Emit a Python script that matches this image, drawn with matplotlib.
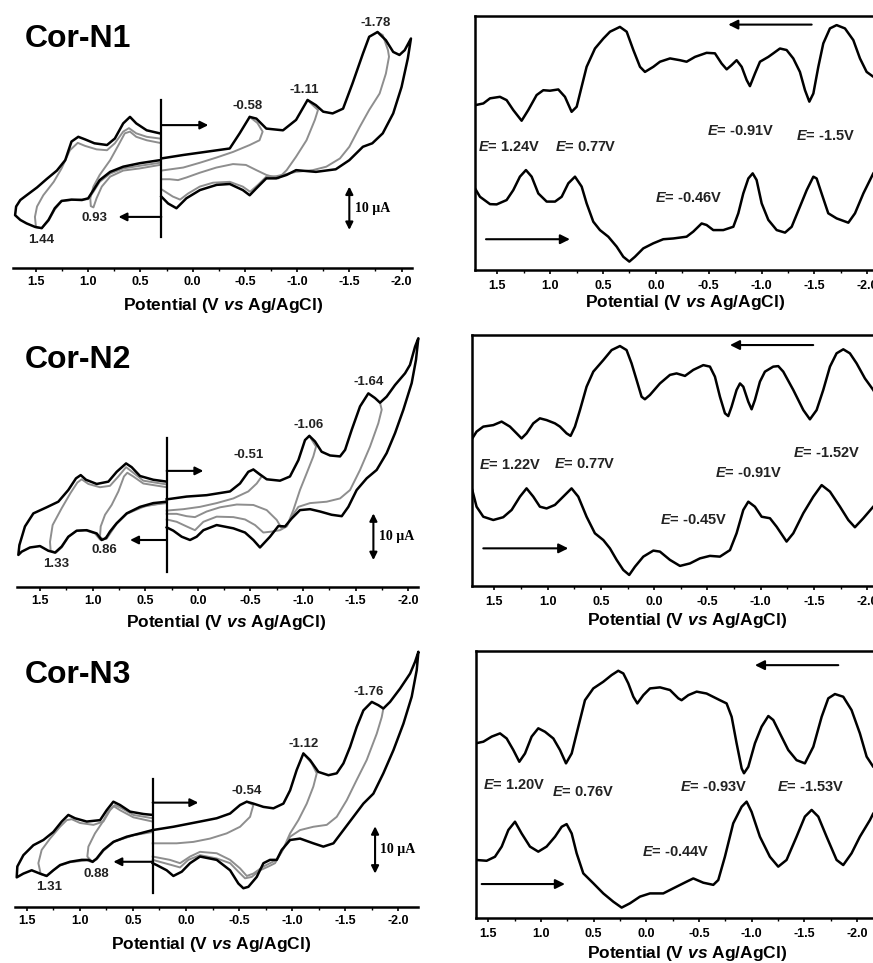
import numpy as np
import matplotlib
matplotlib.use('Agg')
import matplotlib.pyplot as plt
from matplotlib.ticker import MultipleLocator, FormatStrFormatter

# CV data: potential (V vs Ag/AgCl), current (uA)
# right half of each CV (0.3 V -> negative and back), black = full scan
n1_cv_black_neg = [(0.30, 25.3), (0.09, 26.1), (-0.355, 27.6), (-0.45, 31.1), (-0.546, 34.9), (-0.61, 34.5),
                   (-0.705, 32.2), (-0.865, 31.8), (-0.99, 34.2), (-1.10, 38.8), (-1.18, 37.6), (-1.25, 36.1),
                   (-1.34, 35.7), (-1.44, 36.8), (-1.53, 42.6), (-1.63, 49.5), (-1.69, 53.4), (-1.77, 54.5),
                   (-1.85, 52.6), (-1.92, 49.9), (-1.98, 49.2), (-2.03, 50.3), (-2.09, 53.0), (-2.06, 48.4),
                   (-2.0, 41.8), (-1.92, 35.7), (-1.82, 31.1), (-1.72, 28.8), (-1.63, 28.0), (-1.50, 24.9),
                   (-1.37, 22.8), (-1.18, 22.2), (-0.99, 22.6), (-0.90, 21.5), (-0.80, 20.7), (-0.705, 20.7),
                   (-0.61, 18.4), (-0.546, 16.8), (-0.48, 18.0), (-0.355, 19.4), (-0.23, 19.2), (-0.07, 18.0),
                   (0.06, 16.1), (0.155, 13.8), (0.235, 14.9), (0.30, 16.5)]
n1_cv_grey_a = [(-0.546, 34.9), (-0.62, 33.5), (-0.67, 31.5), (-0.64, 29.5), (-0.546, 28.4), (-0.386, 26.8),
                (-0.227, 25.5), (-0.068, 24.3), (0.09, 23.2), (0.30, 22.5)]
n1_cv_grey_b = [(-1.10, 38.8), (-1.15, 37.6), (-1.20, 36.5), (-1.17, 34.2), (-1.09, 29.5), (-0.99, 25.7),
                (-0.90, 22.6), (-0.82, 20.7), (-0.705, 21.5), (-0.61, 22.6), (-0.51, 23.8), (-0.386, 24.0),
                (-0.227, 23.2), (-0.068, 22.0), (0.06, 20.9), (0.14, 20.3), (0.22, 20.5), (0.30, 20.5)]
n1_cv_grey_c = [(-1.77, 54.5), (-1.82, 53.8), (-1.87, 50.3), (-1.88, 48.8), (-1.85, 44.9), (-1.79, 40.3),
                (-1.69, 36.5), (-1.60, 32.6), (-1.50, 28.0), (-1.41, 25.3), (-1.28, 23.4), (-1.15, 22.6),
                (-0.99, 22.2), (-0.80, 21.2), (-0.705, 21.1), (-0.625, 19.2), (-0.55, 17.6), (-0.48, 18.8),
                (-0.355, 19.9), (-0.195, 19.7), (-0.068, 18.8), (0.044, 17.2), (0.12, 15.8), (0.19, 16.5),
                (0.30, 18.2)]
# left half of each CV (0.3 V -> positive and back)
n1_cv_black_pos = [(0.315, 24.9), (0.506, 24.2), (0.665, 23.4), (0.79, 22.2), (0.89, 20.3), (0.95, 18.0),
                   (1.0, 16.1), (1.06, 15.7), (1.16, 15.8), (1.255, 15.5), (1.32, 13.8), (1.38, 11.1),
                   (1.445, 9.2), (1.51, 9.5), (1.59, 10.3), (1.65, 11.1), (1.70, 12.2), (1.69, 14.2),
                   (1.65, 15.7), (1.59, 16.8), (1.49, 18.6), (1.40, 20.5), (1.30, 22.5), (1.22, 24.9),
                   (1.16, 29.2), (1.095, 30.3), (1.03, 29.7), (0.94, 28.8), (0.82, 28.4), (0.745, 29.9),
                   (0.665, 33.4), (0.60, 34.9), (0.54, 33.4), (0.44, 31.8), (0.315, 31.1)]
n1_cv_grey_d = [(0.315, 23.8), (0.506, 23.0), (0.665, 22.5), (0.79, 21.1), (0.87, 18.8), (0.92, 16.1),
                (0.95, 14.0), (0.975, 14.3), (0.98, 16.1), (0.95, 18.8), (0.89, 21.5), (0.79, 24.9),
                (0.71, 28.4), (0.65, 31.1), (0.60, 31.5), (0.54, 30.3), (0.44, 29.5), (0.315, 28.9)]
n1_cv_grey_e = [(0.315, 24.3), (0.506, 23.6), (0.665, 23.0), (0.79, 21.8), (0.89, 19.9), (0.95, 17.6),
                (1.0, 15.9), (1.16, 15.7), (1.255, 15.4), (1.32, 13.5), (1.38, 10.9), (1.445, 9.2),
                (1.50, 9.4), (1.51, 11.8), (1.49, 14.2), (1.43, 16.8), (1.33, 19.9), (1.255, 23.0),
                (1.175, 27.2), (1.10, 28.9), (1.03, 28.2), (0.92, 27.4), (0.82, 27.2), (0.745, 28.8),
                (0.665, 31.5), (0.61, 32.3), (0.54, 31.1), (0.44, 30.3), (0.315, 29.9)]

n2_cv_black_neg = [(0.296, 18.7), (0.106, 19.3), (-0.084, 19.6), (-0.306, 20.4), (-0.401, 22.1), (-0.48, 24.6),
                   (-0.528, 25.1), (-0.575, 24.3), (-0.655, 23.0), (-0.781, 22.7), (-0.876, 23.6), (-0.956, 27.1),
                   (-1.019, 31.4), (-1.06, 32.3), (-1.114, 31.1), (-1.177, 28.9), (-1.257, 28.1), (-1.352, 27.9),
                   (-1.40, 29.3), (-1.463, 33.6), (-1.542, 38.6), (-1.621, 41.4), (-1.684, 40.4), (-1.732, 39.4),
                   (-1.795, 40.7), (-1.875, 43.2), (-1.97, 45.7), (-2.017, 47.5), (-2.065, 51.4), (-2.096, 53.2),
                   (-2.074, 48.6), (-2.033, 43.6), (-1.954, 37.9), (-1.875, 32.9), (-1.795, 28.6), (-1.70, 25.0),
                   (-1.605, 23.2), (-1.51, 20.7), (-1.431, 17.1), (-1.368, 15.1), (-1.272, 15.4), (-1.162, 16.1),
                   (-1.067, 16.6), (-0.971, 16.4), (-0.892, 14.6), (-0.829, 12.9), (-0.766, 13.0), (-0.686, 10.7),
                   (-0.591, 8.4), (-0.528, 10.0), (-0.449, 11.6), (-0.338, 12.5), (-0.179, 13.2), (-0.053, 12.1),
                   (0.011, 10.7), (0.074, 10.0), (0.153, 10.7), (0.233, 12.0), (0.296, 12.7)]
n2_cv_grey_a = [(-0.528, 25.1), (-0.607, 23.6), (-0.56, 22.1), (-0.48, 20.4), (-0.338, 18.9), (-0.179, 17.9),
                (-0.021, 17.1), (0.137, 16.6), (0.296, 16.3)]
n2_cv_grey_b = [(-1.06, 32.3), (-1.124, 30.0), (-1.098, 27.9), (-1.035, 24.3), (-0.971, 20.7), (-0.908, 16.4),
                (-0.851, 13.2), (-0.797, 12.5), (-0.75, 14.3), (-0.655, 16.4), (-0.528, 17.5), (-0.37, 17.6),
                (-0.211, 17.0), (-0.084, 16.1), (0.027, 14.9), (0.106, 15.1), (0.201, 15.6), (0.296, 15.6)]
n2_cv_grey_c = [(-1.732, 39.4), (-1.748, 37.9), (-1.716, 35.0), (-1.637, 30.0), (-1.542, 25.0), (-1.447, 20.7),
                (-1.352, 18.9), (-1.225, 18.2), (-1.067, 17.9), (-0.956, 17.1), (-0.892, 15.0), (-0.845, 12.9),
                (-0.781, 12.1), (-0.702, 11.8), (-0.623, 11.6), (-0.544, 13.2), (-0.449, 14.4), (-0.338, 14.9),
                (-0.179, 15.0), (-0.053, 13.9), (0.027, 12.1), (0.106, 12.9), (0.201, 13.9), (0.296, 14.4)]
n2_cv_black_pos = [(0.296, 18.2), (0.423, 17.9), (0.549, 17.1), (0.676, 15.7), (0.771, 13.6), (0.835, 11.8),
                   (0.873, 10.4), (0.914, 10.0), (0.961, 11.4), (1.056, 12.1), (1.151, 12.0), (1.231, 10.7),
                   (1.294, 8.6), (1.357, 7.3), (1.421, 7.7), (1.50, 8.7), (1.595, 8.4), (1.674, 7.5),
                   (1.706, 6.8), (1.696, 8.9), (1.643, 12.9), (1.563, 15.7), (1.437, 17.0), (1.326, 18.2),
                   (1.231, 20.7), (1.158, 23.2), (1.113, 23.9), (1.063, 22.9), (0.961, 22.0), (0.85, 22.5),
                   (0.771, 24.6), (0.682, 26.4), (0.629, 25.6), (0.549, 23.7), (0.423, 22.9), (0.296, 22.5)]
n2_cv_grey_d = [(0.296, 17.9), (0.486, 17.4), (0.676, 15.6), (0.787, 13.2), (0.85, 11.1), (0.898, 10.1),
                (0.93, 10.7), (0.923, 12.9), (0.882, 15.4), (0.819, 17.5), (0.755, 20.4), (0.702, 23.6),
                (0.67, 24.4), (0.613, 23.6), (0.518, 22.1), (0.296, 21.3)]
n2_cv_grey_e = [(0.296, 18.1), (0.549, 17.0), (0.676, 15.6), (0.771, 13.5), (0.866, 10.3), (0.93, 10.1),
                (0.977, 11.4), (1.072, 12.1), (1.158, 11.9), (1.231, 10.6), (1.294, 8.4), (1.348, 7.3),
                (1.399, 7.7), (1.405, 9.6), (1.38, 13.2), (1.294, 16.8), (1.209, 20.1), (1.145, 22.3),
                (1.104, 23.0), (1.04, 22.0), (0.93, 21.3), (0.835, 21.6), (0.755, 23.6), (0.682, 25.6),
                (0.613, 24.4), (0.518, 22.7), (0.296, 21.9)]

n3_cv_black_neg = [(0.314, 16.2), (0.119, 16.9), (-0.132, 18.0), (-0.289, 18.7), (-0.415, 19.7), (-0.509, 21.5),
                   (-0.572, 22.2), (-0.634, 21.8), (-0.729, 21.1), (-0.823, 20.8), (-0.917, 21.8), (-0.98, 24.6),
                   (-1.042, 28.9), (-1.105, 32.4), (-1.168, 31.0), (-1.246, 28.5), (-1.341, 27.8), (-1.419, 28.2),
                   (-1.482, 30.3), (-1.545, 33.8), (-1.607, 38.0), (-1.67, 41.5), (-1.749, 43.3), (-1.811, 42.6),
                   (-1.858, 41.9), (-1.921, 43.3), (-2.015, 46.1), (-2.11, 49.3), (-2.157, 51.8), (-2.188, 53.9),
                   (-2.172, 50.0), (-2.125, 44.4), (-2.047, 38.7), (-1.953, 33.1), (-1.858, 28.2), (-1.764, 23.9),
                   (-1.67, 21.8), (-1.576, 19.0), (-1.482, 16.2), (-1.388, 13.4), (-1.293, 12.7), (-1.199, 13.4),
                   (-1.074, 14.4), (-0.98, 14.1), (-0.901, 12.0), (-0.854, 9.9), (-0.791, 9.9), (-0.729, 9.2),
                   (-0.666, 6.3), (-0.587, 4.2), (-0.54, 3.9), (-0.493, 4.9), (-0.415, 7.7), (-0.289, 9.9),
                   (-0.132, 10.6), (-0.038, 9.2), (0.04, 7.4), (0.119, 6.5), (0.182, 7.7), (0.276, 8.8),
                   (0.314, 9.2)]
n3_cv_grey_a = [(-0.572, 22.2), (-0.634, 21.5), (-0.603, 19.0), (-0.509, 16.9), (-0.383, 15.5), (-0.226, 14.4),
                (-0.069, 13.7), (0.088, 13.4), (0.314, 13.4)]
n3_cv_grey_b = [(-1.105, 32.4), (-1.184, 30.3), (-1.231, 28.2), (-1.199, 25.4), (-1.137, 21.8), (-1.058, 18.3),
                (-0.98, 15.5), (-0.917, 12.3), (-0.854, 9.9), (-0.791, 9.2), (-0.729, 8.5), (-0.634, 7.0),
                (-0.572, 6.5), (-0.509, 8.1), (-0.415, 9.9), (-0.289, 11.3), (-0.132, 11.6), (-0.038, 10.6),
                (0.056, 9.2), (0.151, 9.9), (0.314, 10.6)]
n3_cv_grey_c = [(-1.858, 41.9), (-1.843, 40.1), (-1.796, 36.6), (-1.701, 31.0), (-1.607, 26.8), (-1.513, 22.5),
                (-1.419, 19.0), (-1.325, 17.3), (-1.199, 16.9), (-1.074, 16.2), (-0.98, 14.8), (-0.901, 11.6),
                (-0.838, 9.2), (-0.776, 8.5), (-0.697, 7.7), (-0.619, 6.3), (-0.556, 6.0), (-0.493, 7.4),
                (-0.415, 9.2), (-0.289, 10.2), (-0.132, 10.9), (-0.022, 9.9), (0.056, 8.3), (0.135, 8.8),
                (0.314, 9.9)]
n3_cv_black_pos = [(0.314, 16.2), (0.433, 15.5), (0.558, 14.8), (0.684, 13.7), (0.778, 12.0), (0.841, 10.2),
                   (0.879, 9.5), (0.919, 9.9), (0.982, 9.9), (1.092, 9.5), (1.186, 8.8), (1.249, 7.7),
                   (1.312, 6.5), (1.375, 7.0), (1.453, 7.7), (1.531, 7.0), (1.594, 6.2), (1.588, 8.5),
                   (1.531, 10.9), (1.437, 13.0), (1.343, 14.1), (1.249, 15.8), (1.17, 18.0), (1.108, 19.4),
                   (1.045, 18.7), (0.935, 18.0), (0.809, 18.3), (0.747, 20.4), (0.684, 22.2), (0.621, 21.5),
                   (0.527, 20.1), (0.401, 19.6), (0.314, 19.4)]
n3_cv_grey_d = [(0.314, 15.8), (0.496, 15.1), (0.668, 13.9), (0.778, 11.8), (0.841, 10.0), (0.888, 9.6),
                (0.929, 10.6), (0.919, 12.7), (0.857, 15.5), (0.794, 17.6), (0.731, 20.1), (0.684, 21.3),
                (0.621, 20.4), (0.496, 18.9), (0.314, 18.0)]
n3_cv_grey_e = [(0.314, 16.1), (0.496, 15.1), (0.684, 13.7), (0.778, 11.9), (0.841, 10.1), (0.879, 9.4),
                (0.935, 9.8), (1.092, 9.4), (1.186, 8.7), (1.249, 7.7), (1.312, 6.5), (1.368, 6.9),
                (1.39, 9.2), (1.359, 12.0), (1.28, 14.4), (1.186, 16.9), (1.123, 18.3), (1.076, 18.5),
                (0.998, 17.7), (0.872, 17.3), (0.778, 18.0), (0.715, 20.4), (0.668, 21.5), (0.605, 20.8),
                (0.496, 19.4), (0.314, 18.7)]

# DPV data: potential (V), current (a.u., frame = 0..100)
n1_dpv_top = [(1.711, 64.8), (1.632, 65.5), (1.569, 67.5), (1.475, 68.1), (1.412, 66.8), (1.349, 62.9),
              (1.27, 58.7), (1.207, 62.9), (1.128, 68.8), (1.065, 70.7), (1.002, 70.5), (0.923, 71.0),
              (0.86, 68.1), (0.797, 62.2), (0.749, 64.2), (0.702, 72.1), (0.655, 79.9), (0.576, 87.1),
              (0.497, 91.0), (0.434, 93.7), (0.34, 95.6), (0.276, 93.7), (0.213, 86.5), (0.15, 79.9),
              (0.103, 77.9), (0.024, 79.9), (-0.039, 81.9), (-0.134, 83.2), (-0.228, 82.5), (-0.291, 81.9),
              (-0.37, 83.8), (-0.48, 85.4), (-0.559, 85.2), (-0.622, 81.2), (-0.67, 78.9), (-0.717, 80.6),
              (-0.764, 82.5), (-0.812, 79.9), (-0.859, 74.7), (-0.89, 72.3), (-0.938, 77.3), (-0.985, 81.9),
              (-1.064, 83.8), (-1.111, 85.2), (-1.174, 87.1), (-1.237, 86.5), (-1.30, 83.2), (-1.363, 77.9),
              (-1.411, 70.7), (-1.452, 66.2), (-1.49, 69.4), (-1.537, 79.9), (-1.584, 89.1), (-1.647, 95.0),
              (-1.71, 96.3), (-1.789, 95.0), (-1.868, 90.4), (-1.931, 83.2), (-1.994, 77.9), (-2.057, 76.0),
              (-2.152, 74.7)]
n1_dpv_bot = [(1.711, 32.1), (1.664, 28.8), (1.569, 25.9), (1.506, 25.8), (1.412, 27.5), (1.349, 31.4),
              (1.286, 36.7), (1.229, 39.3), (1.175, 36.7), (1.112, 30.1), (1.033, 26.9), (0.954, 26.9),
              (0.891, 28.8), (0.828, 34.1), (0.765, 36.7), (0.702, 32.8), (0.655, 26.2), (0.592, 19.0),
              (0.529, 15.7), (0.45, 13.1), (0.371, 9.2), (0.308, 5.2), (0.251, 3.3), (0.198, 5.2),
              (0.119, 8.5), (0.024, 10.5), (-0.07, 12.1), (-0.165, 12.4), (-0.291, 13.1), (-0.354, 15.1),
              (-0.433, 18.3), (-0.48, 17.7), (-0.543, 15.7), (-0.638, 15.7), (-0.733, 17.0), (-0.78, 22.3),
              (-0.827, 30.1), (-0.875, 36.0), (-0.916, 38.0), (-0.953, 35.4), (-1.001, 26.2), (-1.064, 19.7),
              (-1.143, 15.7), (-1.222, 14.7), (-1.285, 17.0), (-1.363, 24.9), (-1.427, 31.4), (-1.49, 36.7),
              (-1.521, 36.0), (-1.568, 30.1), (-1.631, 22.3), (-1.71, 20.3), (-1.821, 18.6), (-1.884, 22.3),
              (-1.963, 30.1), (-2.026, 35.4), (-2.057, 38.0), (-2.152, 43.2)]

n2_dpv_top = [(1.706, 58.8), (1.666, 61.5), (1.603, 63.5), (1.509, 64.1), (1.431, 65.5), (1.353, 63.5),
              (1.29, 60.8), (1.244, 58.8), (1.197, 60.8), (1.134, 64.8), (1.072, 66.8), (1.009, 66.1),
              (0.931, 64.8), (0.884, 63.5), (0.821, 60.8), (0.784, 59.8), (0.743, 63.5), (0.696, 70.1),
              (0.634, 79.4), (0.571, 85.4), (0.477, 90.0), (0.399, 94.0), (0.321, 95.6), (0.259, 94.0),
              (0.212, 88.7), (0.165, 82.1), (0.118, 75.4), (0.087, 74.4), (0.04, 76.1), (-0.054, 80.7),
              (-0.148, 84.1), (-0.21, 84.7), (-0.289, 83.7), (-0.367, 86.1), (-0.461, 88.0), (-0.523, 87.4),
              (-0.57, 83.4), (-0.617, 75.4), (-0.664, 68.8), (-0.695, 67.7), (-0.726, 71.4), (-0.773, 78.1),
              (-0.805, 80.7), (-0.836, 79.4), (-0.883, 73.4), (-0.914, 70.4), (-0.945, 74.1), (-0.992, 81.4),
              (-1.039, 85.4), (-1.117, 87.4), (-1.164, 87.6), (-1.211, 85.4), (-1.305, 78.1), (-1.399, 70.1),
              (-1.461, 66.4), (-1.524, 70.1), (-1.586, 78.1), (-1.649, 87.4), (-1.711, 92.7), (-1.774, 94.3),
              (-1.836, 92.7), (-1.899, 88.7), (-1.977, 82.7), (-2.055, 78.1), (-2.149, 71.4)]
n2_dpv_bot = [(1.706, 38.2), (1.666, 31.6), (1.603, 27.6), (1.509, 26.3), (1.416, 27.4), (1.337, 30.3),
              (1.259, 35.6), (1.197, 38.9), (1.134, 35.6), (1.072, 31.6), (1.009, 30.9), (0.931, 32.3),
              (0.853, 35.6), (0.775, 38.9), (0.712, 35.6), (0.634, 27.6), (0.556, 21.0), (0.477, 18.3),
              (0.415, 15.0), (0.352, 10.4), (0.29, 6.4), (0.234, 4.4), (0.18, 7.7), (0.102, 11.7),
              (0.008, 14.1), (-0.054, 13.7), (-0.148, 10.4), (-0.242, 8.0), (-0.336, 9.0), (-0.429, 11.0),
              (-0.523, 12.0), (-0.617, 11.7), (-0.711, 14.3), (-0.773, 21.0), (-0.836, 30.3), (-0.883, 33.6),
              (-0.945, 31.6), (-1.008, 27.6), (-1.086, 27.0), (-1.149, 23.6), (-1.242, 17.7), (-1.305, 21.0),
              (-1.399, 29.0), (-1.493, 35.6), (-1.571, 40.2), (-1.649, 37.6), (-1.743, 31.6), (-1.821, 26.3),
              (-1.883, 23.4), (-1.962, 27.0), (-2.055, 31.6), (-2.149, 35.6)]

n3_dpv_top = [(1.617, 65.4), (1.547, 66.0), (1.468, 67.9), (1.389, 69.1), (1.326, 67.2), (1.263, 62.9),
              (1.206, 58.5), (1.152, 61.6), (1.089, 67.9), (1.026, 71.0), (0.962, 69.7), (0.883, 67.2),
              (0.82, 62.9), (0.763, 57.9), (0.709, 61.6), (0.646, 71.6), (0.583, 81.5), (0.504, 85.9),
              (0.409, 88.4), (0.33, 90.9), (0.267, 92.5), (0.219, 91.5), (0.172, 87.8), (0.124, 82.8),
              (0.086, 80.3), (0.029, 83.4), (-0.034, 85.9), (-0.129, 86.3), (-0.224, 85.3), (-0.303, 82.2),
              (-0.334, 81.5), (-0.398, 83.4), (-0.477, 84.7), (-0.571, 84.0), (-0.698, 81.5), (-0.761, 80.3),
              (-0.809, 75.3), (-0.856, 65.4), (-0.904, 56.0), (-0.926, 54.2), (-0.967, 56.6), (-1.03, 65.4),
              (-1.093, 71.6), (-1.157, 75.6), (-1.204, 74.1), (-1.267, 69.1), (-1.346, 62.9), (-1.425, 59.1),
              (-1.504, 57.9), (-1.584, 64.1), (-1.663, 75.3), (-1.726, 82.2), (-1.789, 83.8), (-1.868, 82.8),
              (-1.947, 77.8), (-2.026, 69.1), (-2.09, 60.4), (-2.153, 56.6), (-2.216, 55.4)]
n3_dpv_bot = [(1.617, 21.8), (1.516, 21.5), (1.437, 23.0), (1.373, 26.8), (1.31, 33.0), (1.247, 36.1),
              (1.184, 31.7), (1.105, 26.8), (1.026, 24.9), (0.947, 26.8), (0.867, 30.5), (0.804, 34.2),
              (0.757, 35.2), (0.709, 31.7), (0.662, 24.3), (0.599, 16.8), (0.504, 13.1), (0.409, 9.3),
              (0.314, 6.2), (0.235, 4.0), (0.156, 5.6), (0.061, 8.1), (-0.034, 9.3), (-0.16, 9.3),
              (-0.255, 11.2), (-0.382, 13.7), (-0.445, 14.9), (-0.54, 13.3), (-0.635, 12.5), (-0.682, 14.3),
              (-0.745, 23.0), (-0.824, 35.5), (-0.904, 41.7), (-0.951, 43.6), (-0.998, 39.8), (-1.077, 30.5),
              (-1.172, 23.0), (-1.251, 19.3), (-1.33, 21.8), (-1.425, 30.5), (-1.504, 38.0), (-1.568, 40.5),
              (-1.631, 38.0), (-1.71, 30.5), (-1.805, 21.8), (-1.868, 19.9), (-1.947, 24.3), (-2.026, 30.5),
              (-2.121, 36.7), (-2.153, 39.2), (-2.216, 41.1)]

# peak labels: (text, potential, current)
n1_cv_labels = [('-1.78', -1.75, 56.6), ('-1.11', -1.07, 41.2), ('-0.58', -0.53, 37.4),
                ('0.93', 0.94, 11.5), ('1.44', 1.45, 6.5)]
n2_cv_labels = [('-1.64', -1.621, 43.9), ('-1.06', -1.051, 34.6), ('-0.51', -0.48, 28.1),
                ('0.86', 0.892, 7.9), ('1.33', 1.348, 4.9)]
n3_cv_labels = [('-1.76', -1.717, 45.4), ('-1.12', -1.105, 34.4), ('-0.54', -0.572, 24.5),
                ('0.88', 0.847, 7.0), ('1.31', 1.287, 4.2)]
n1_dpv_labels = [('1.24V', 1.68, 48.5), ('0.77V', 0.955, 48.5), ('-0.91V', -0.48, 54.8),
                 ('-1.5V', -1.33, 52.7), ('-0.46V', 0.01, 28.2)]
n2_dpv_labels = [('1.22V', 1.64, 48.2), ('0.77V', 0.94, 48.6), ('-1.52V', -1.299, 53.1),
                 ('-0.91V', -0.57, 44.9), ('-0.45V', -0.054, 26.3)]
n3_dpv_labels = [('1.20V', 1.547, 49.8), ('0.76V', 0.899, 47.3), ('-0.93V', -0.318, 48.9),
                 ('-1.53V', -1.236, 49.2), ('-0.44V', 0.045, 24.9)]

plt.rcParams['font.family'] = ['Liberation Sans', 'DejaVu Sans']
plt.rcParams['font.weight'] = 'bold'
plt.rcParams['mathtext.fontset'] = 'custom'
plt.rcParams['mathtext.it'] = 'Liberation Sans:italic:bold'
plt.rcParams['mathtext.rm'] = 'Liberation Sans:bold'
plt.rcParams['axes.unicode_minus'] = False

W, H = 873, 963
fig = plt.figure(figsize=(W / 100, H / 100), dpi=100)

GREY = '#8e8e8e'
XLABEL = 'Potential (V $\\mathit{vs}$ Ag/AgCl)'


def px_axes(l, t, r, b):
    return fig.add_axes([l / W, 1 - b / H, (r - l) / W, (b - t) / H])


def xy(pts):
    a = np.array(pts)
    return a[:, 0], a[:, 1]


def style_x(ax, pad):
    ax.xaxis.set_major_locator(MultipleLocator(0.5))
    ax.xaxis.set_minor_locator(MultipleLocator(0.25))
    ax.xaxis.set_major_formatter(FormatStrFormatter('%.1f'))
    ax.tick_params(axis='x', which='major', direction='out', length=3, width=1.2, pad=pad, labelsize=9)
    ax.tick_params(axis='x', which='minor', direction='out', length=2, width=1.0)
    ax.set_yticks([])
    ax.set_facecolor('none')


def arrow(ax, tail, head, ms=11, style='-|>'):
    ax.annotate('', xy=head, xytext=tail,
                arrowprops=dict(arrowstyle=style, color='k', lw=1.5, mutation_scale=ms,
                                shrinkA=0, shrinkB=0), annotation_clip=False)


def cv_panel(rect, xlim, ytop, greys, blacks, vline, arr_r, arr_l, labels, bar, title, title_y, xlab):
    ax = px_axes(*rect)
    ax.set_xlim(*xlim)
    ax.set_ylim(0, ytop)
    for s in ['top', 'left', 'right']:
        ax.spines[s].set_visible(False)
    ax.spines['bottom'].set_linewidth(1.8)
    style_x(ax, 3)
    for g in greys:
        v, i = xy(g)
        ax.plot(v, i, color=GREY, lw=1.4, solid_joinstyle='round', clip_on=False)
    for b in blacks:
        v, i = xy(b)
        ax.plot(v, i, color='k', lw=1.8, solid_joinstyle='round', clip_on=False, zorder=3)
    ax.plot([vline[0], vline[0]], [vline[1], vline[2]], color='k', lw=1.6)
    arrow(ax, arr_r[0], arr_r[1], ms=12)
    arrow(ax, arr_l[0], arr_l[1], ms=12)
    for t, v, i in labels:
        ax.text(v, i, t, ha='center', va='center', fontsize=9.5, fontweight='bold', color='#222222')
    arrow(ax, (bar[0], bar[1]), (bar[0], bar[2]), ms=11, style='<|-|>')
    ax.text(bar[0] - 0.05, (bar[1] + bar[2]) / 2, '10 \u00b5A', ha='left', va='center',
            fontsize=10, fontweight='bold', family='Liberation Serif')
    fig.text(25 / W, 1 - title_y / H, title, ha='left', va='center', fontsize=23, fontweight='bold')
    fig.text(xlab[0] / W, 1 - xlab[1] / H, XLABEL, ha='center', va='center', fontsize=12.5, fontweight='bold')
    return ax


def dpv_panel(rect, xlim, top, bot, labels, arr_t, arr_b, xlab):
    ax = px_axes(*rect)
    ax.set_xlim(*xlim)
    ax.set_ylim(0, 100)
    for s in ax.spines.values():
        s.set_linewidth(1.8)
    style_x(ax, 4)
    for c in (top, bot):
        v, i = xy(c)
        ax.plot(v, i, color='k', lw=1.8, solid_joinstyle='round')
    for t, v, i in labels:
        ax.text(v, i, '$\\mathit{E}$= ' + t, ha='left', va='center', fontsize=10.5, fontweight='bold',
                color='#222222')
    arrow(ax, arr_t[0], arr_t[1], ms=14)
    arrow(ax, arr_b[0], arr_b[1], ms=14)
    fig.text(xlab[0] / W, 1 - xlab[1] / H, XLABEL, ha='center', va='center', fontsize=12.5, fontweight='bold')
    return ax


# Cor-N1
cv_panel((13, 0, 412, 268), (1.72, -2.1), 268 / 4.33,
         [n1_cv_grey_a, n1_cv_grey_b, n1_cv_grey_c, n1_cv_grey_d, n1_cv_grey_e],
         [n1_cv_black_neg, n1_cv_black_pos],
         (0.30, 7.2, 38.8), ((0.30, 33.0), (-0.15, 33.0)), ((0.30, 11.8), (0.71, 11.8)),
         n1_cv_labels, (-1.50, 18.8, 8.8), 'Cor-N1', 39, (223, 305))
dpv_panel((475, 15.7, 888.4, 270), (1.711, -2.2), n1_dpv_top, n1_dpv_bot, n1_dpv_labels,
          ((-1.474, 96.5), (-0.685, 96.5)), ((1.607, 12.1), (0.813, 12.1)), (685, 303))

# Cor-N2
cv_panel((16.7, 310, 418, 586.7), (1.7215, -2.093), 276.7 / 4.67,
         [n2_cv_grey_a, n2_cv_grey_b, n2_cv_grey_c, n2_cv_grey_d, n2_cv_grey_e],
         [n2_cv_black_neg, n2_cv_black_pos],
         (0.296, 3.2, 31.8), ((0.296, 24.8), (-0.053, 24.8)), ((0.296, 10.0), (0.644, 10.0)),
         n2_cv_labels, (-1.669, 15.7, 5.7), 'Cor-N2', 360, (226, 623))
dpv_panel((472.3, 335, 888.7, 586), (1.706, -2.2), n2_dpv_top, n2_dpv_bot, n2_dpv_labels,
          ((-1.492, 96.0), (-0.711, 96.0)), ((1.603, 15.0), (0.806, 15.0)), (687, 621))

# Cor-N3
cv_panel((15, 630, 418.3, 906.7), (1.61, -2.187), 276.7 / 4.73,
         [n3_cv_grey_a, n3_cv_grey_b, n3_cv_grey_c, n3_cv_grey_d, n3_cv_grey_e],
         [n3_cv_black_neg, n3_cv_black_pos],
         (0.314, 2.8, 27.1), ((0.314, 22.0), (-0.116, 22.0)), ((0.314, 9.5), (0.684, 9.5)),
         n3_cv_labels, (-1.78, 17.0, 7.0), 'Cor-N3', 675, (211, 944))
dpv_panel((476, 650.7, 883.5, 918.3), (1.617, -2.25), n3_dpv_top, n3_dpv_bot, n3_dpv_labels,
          ((-1.821, 94.6), (-1.03, 94.6)), ((1.563, 12.8), (0.773, 12.8)), (687, 953))

fig.savefig('out.png', dpi=100)
